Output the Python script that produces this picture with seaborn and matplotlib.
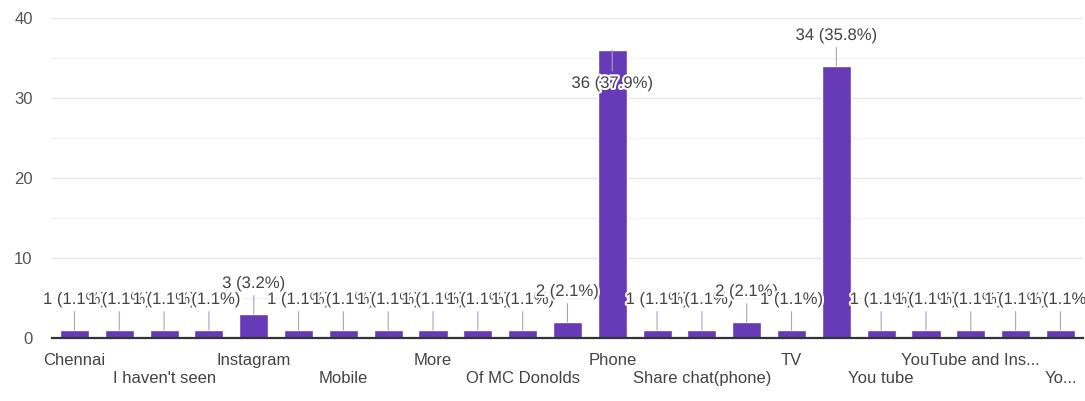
import matplotlib
matplotlib.use("Agg")
import matplotlib.pyplot as plt
import matplotlib.patheffects as pe
import seaborn as sns
import pandas as pd

# Responses per answer (alphabetical order, as listed in the form summary)
categories = [
    "Chennai", "Facebook", "I haven't seen", "In TV", "Instagram",
    "Laptop", "Mobile", "Mobile phone", "More", "News paper",
    "Of MC Donolds", "Online", "Phone", "Phone and TV", "Share chat(phone)",
    "Social media", "TV", "Youtube", "You tube", "YouTube",
    "YouTube and Ins...", "YouTube and TV", "Yo...",
]
values = [1, 1, 1, 1, 3, 1, 1, 1, 1, 1, 1, 2, 36, 1, 1, 2, 1, 34, 1, 1, 1, 1, 1]
y_ticks = [0, 10, 20, 30, 40]

BAR = "#673AB7"
TEXT = "#444444"

sns.set_theme(style="white")
plt.rcParams["font.family"] = ["Liberation Sans", "DejaVu Sans"]

df = pd.DataFrame({"answer": categories, "count": values})
total = sum(values)

fig = plt.figure(figsize=(10.85, 4.01), dpi=100)
ax = fig.add_axes([0.048, 0.157, 0.950, 0.798])

# light horizontal grid every 5 responses
for yv in range(0, 41, 5):
    ax.axhline(yv, color="#e8e8e8" if yv % 10 == 0 else "#f2f2f2", lw=1.0, zorder=0)

sns.barplot(data=df, x="answer", y="count", order=categories, color=BAR,
            saturation=1, width=0.65, ax=ax, zorder=2)

ax.set_ylim(0, 40)
ax.set_xlim(-0.5, len(categories) - 0.5)
ax.set_yticks(y_ticks)
ax.set_yticklabels([str(t) for t in y_ticks], color="#555555", fontsize=12)
ax.tick_params(axis="y", length=0, pad=14)

# every other answer labelled, staggered on two rows
labels = []
for i, c in enumerate(categories):
    if i % 2:
        labels.append("")
    elif i % 4 == 0:
        labels.append(c)
    else:
        labels.append("\n" + c)
ax.set_xticks(range(len(categories)))
ax.set_xticklabels(labels, color=TEXT, fontsize=12, linespacing=1.25)
ax.tick_params(axis="x", length=0, pad=11)
ax.set_xlabel("")
ax.set_ylabel("")

for s in ["top", "right", "left"]:
    ax.spines[s].set_visible(False)
ax.spines["bottom"].set_color("#333333")
ax.spines["bottom"].set_linewidth(1.6)
ax.spines["bottom"].set_zorder(3)

# value labels with leader lines
for i, v in enumerate(values):
    txt = f"{v} ({v / total * 100:.1f}%)"
    off = -24 if v == max(values) else 22
    ax.annotate(txt, xy=(i, v), xytext=(0, off), textcoords="offset points",
                ha="center", va="center", fontsize=12, color=TEXT, zorder=4,
                arrowprops=dict(arrowstyle="-", color="#a9a0c4", lw=0.8,
                                shrinkA=1, shrinkB=0),
                path_effects=[pe.withStroke(linewidth=3, foreground="white")])

fig.savefig("out.png", dpi=100, facecolor="white")
